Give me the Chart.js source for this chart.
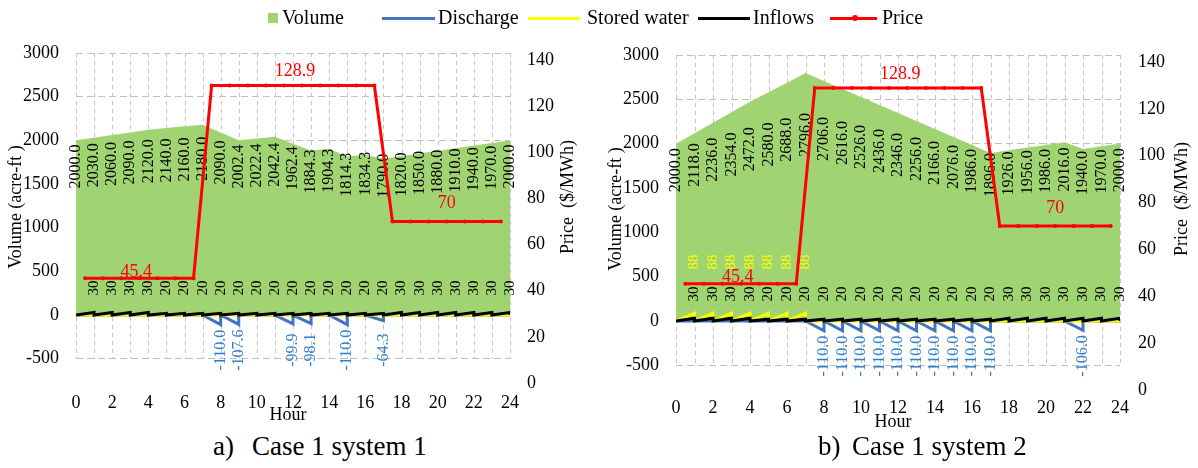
<!DOCTYPE html>
<html>
<head>
<meta charset="utf-8">
<script src="https://cdn.jsdelivr.net/npm/chart.js@4/dist/chart.umd.min.js"></script>
<style>
  body { margin: 0; background: #fff; width: 1198px; height: 468px; overflow: hidden; position: relative;
         font-family: "Liberation Serif", "Times New Roman", serif; color: #000; }
  canvas { position: absolute; top: 0; }
  #cA { left: 0; }
  #cB { left: 600px; }
  .leg { position: absolute; top: 6px; font-family: "Liberation Serif", serif; font-size: 20px; line-height: 22px; white-space: nowrap; }
  .sw { position: absolute; }
  .cap { position: absolute; top: 431px; font-family: "Liberation Serif", serif; font-size: 27px; line-height: 30px; white-space: nowrap; }
</style>
</head>
<body>
<canvas id="cA" width="600" height="430"></canvas>
<canvas id="cB" width="598" height="437"></canvas>

<div class="sw" style="left:268px;top:13px;width:10px;height:10px;background:#A0D472"></div>
<div class="leg" style="left:282px">Volume</div>
<div class="sw" style="left:382px;top:17px;width:53px;height:3px;background:#4472C4"></div>
<div class="leg" style="left:438px">Discharge</div>
<div class="sw" style="left:528px;top:17px;width:52px;height:3px;background:#FFFF00"></div>
<div class="leg" style="left:587px">Stored water</div>
<div class="sw" style="left:698px;top:17px;width:52px;height:3px;background:#000"></div>
<div class="leg" style="left:753px">Inflows</div>
<div class="sw" style="left:830px;top:17px;width:47px;height:3px;background:#FF0000"></div>
<div class="sw" style="left:852px;top:15px;width:6px;height:6px;border-radius:3px;background:#FF0000"></div>
<div class="leg" style="left:882px">Price</div>

<div class="cap" style="left:213px">a)</div>
<div class="cap" style="left:252px">Case 1 system 1</div>
<div class="cap" style="left:818px">b)</div>
<div class="cap" style="left:852px">Case 1 system 2</div>

<script>
// hour positions
const hours = [0, 1, 2, 3, 4, 5, 6, 7, 8, 9, 10, 11, 12, 13, 14, 15, 16, 17, 18, 19, 20, 21, 22, 23, 24];
const stepHours = [1, 2, 3, 4, 5, 6, 7, 8, 9, 10, 11, 12, 13, 14, 15, 16, 17, 18, 19, 20, 21, 22, 23, 24];
const priceHours = [0.5, 1.5, 2.5, 3.5, 4.5, 5.5, 6.5, 7.5, 8.5, 9.5, 10.5, 11.5, 12.5, 13.5, 14.5, 15.5,
                    16.5, 17.5, 18.5, 19.5, 20.5, 21.5, 22.5, 23.5];

// case 1 system 1
const volumeA = [2000.0, 2030.0, 2060.0, 2090.0, 2120.0, 2140.0, 2160.0, 2180.0, 2090.0, 2002.4, 2022.4, 2042.4,
                 1962.4, 1884.3, 1904.3, 1814.3, 1834.3, 1790.0, 1820.0, 1850.0, 1880.0, 1910.0, 1940.0, 1970.0, 2000.0];
const inflowA = [30, 30, 30, 30, 20, 20, 20, 20, 20, 20, 20, 20, 20, 20, 20, 20, 20, 30, 30, 30, 30, 30, 30, 30];
const dischargeA = [0, 0, 0, 0, 0, 0, 0, -110.0, -107.6, 0, 0, -99.9, -98.1, 0, -110.0, 0, -64.3, 0, 0, 0, 0, 0, 0, 0];
const storedA = [0, 0, 0, 0, 0, 0, 0, 0, 0, 0, 0, 0, 0, 0, 0, 0, 0, 0, 0, 0, 0, 0, 0, 0];
const priceA = [45.4, 45.4, 45.4, 45.4, 45.4, 45.4, 45.4, 128.9, 128.9, 128.9, 128.9, 128.9, 128.9, 128.9, 128.9,
                128.9, 128.9, 70, 70, 70, 70, 70, 70, 70];

// case 1 system 2
const volumeB = [2000.0, 2118.0, 2236.0, 2354.0, 2472.0, 2580.0, 2688.0, 2796.0, 2706.0, 2616.0, 2526.0, 2436.0,
                 2346.0, 2256.0, 2166.0, 2076.0, 1986.0, 1896.0, 1926.0, 1956.0, 1986.0, 2016.0, 1940.0, 1970.0, 2000.0];
const inflowB = [30, 30, 30, 30, 20, 20, 20, 20, 20, 20, 20, 20, 20, 20, 20, 20, 20, 30, 30, 30, 30, 30, 30, 30];
const dischargeB = [0, 0, 0, 0, 0, 0, 0, -110.0, -110.0, -110.0, -110.0, -110.0, -110.0, -110.0, -110.0, -110.0,
                    -110.0, 0, 0, 0, 0, -106.0, 0, 0];
const storedB = [88, 88, 88, 88, 88, 88, 88, 0, 0, 0, 0, 0, 0, 0, 0, 0, 0, 0, 0, 0, 0, 0, 0, 0];
const priceB = [45.4, 45.4, 45.4, 45.4, 45.4, 45.4, 45.4, 128.9, 128.9, 128.9, 128.9, 128.9, 128.9, 128.9, 128.9,
                128.9, 128.9, 70, 70, 70, 70, 70, 70, 70];

const volumeTicks = [-500, 0, 500, 1000, 1500, 2000, 2500, 3000];
const priceTicks = [0, 20, 40, 60, 80, 100, 120, 140];
const hourTicks = [0, 2, 4, 6, 8, 10, 12, 14, 16, 18, 20, 22, 24];
const priceLabelIdx = [3, 12, 20];

const SERIF = '"Liberation Serif", "Times New Roman", serif';
const GREEN = '#A0D472';

// each hour drawn as a tooth: ramp from 0 up to the value, then straight back to 0
function teeth(vals) {
  const pts = [{ x: 0, y: 0 }];
  stepHours.forEach((h, i) => {
    pts.push({ x: h, y: vals[i] });
    pts.push({ x: h, y: 0 });
  });
  return pts;
}

function vtext(ctx, txt, x, y) {
  ctx.save();
  ctx.translate(x, y);
  ctx.rotate(-Math.PI / 2);
  ctx.textAlign = 'center';
  ctx.textBaseline = 'middle';
  ctx.fillText(txt, 0, 0);
  ctx.restore();
}

function makeChart(id, d) {
  const labels = {
    id: 'labels',
    beforeDatasetsDraw(chart) {
      const { ctx } = chart;
      const xs = chart.scales.x, ys = chart.scales.y;
      ctx.save();
      ctx.strokeStyle = '#C4C4C4';
      ctx.lineWidth = 1;
      ctx.setLineDash([4, 4]);
      hours.forEach(h => {
        const x = Math.round(xs.getPixelForValue(h)) + 0.5;
        ctx.beginPath();
        ctx.moveTo(x, ys.getPixelForValue(3000));
        ctx.lineTo(x, ys.getPixelForValue(-500));
        ctx.stroke();
      });
      ctx.restore();
    },
    afterDatasetDraw(chart, args) {
      if (args.index !== 0) return;
      const { ctx } = chart;
      const xs = chart.scales.x, ys = chart.scales.y;
      const y0 = ys.getPixelForValue(0);
      ctx.save();
      ctx.fillStyle = '#000';
      ctx.font = '16px ' + SERIF;
      d.volume.forEach((v, i) => {
        const cy = (ys.getPixelForValue(v) + ys.getPixelForValue(1400)) / 2;
        vtext(ctx, v.toFixed(1), xs.getPixelForValue(hours[i]), cy);
      });
      ctx.font = '15px ' + SERIF;
      d.inflow.forEach((v, i) => vtext(ctx, String(v), xs.getPixelForValue(stepHours[i]), y0 - 27));
      ctx.fillStyle = '#FFFF00';
      d.stored.forEach((v, i) => {
        if (v) vtext(ctx, String(v), xs.getPixelForValue(stepHours[i]), y0 - 59);
      });
      ctx.fillStyle = '#2F80D0';
      ctx.font = '16px ' + SERIF;
      d.discharge.forEach((v, i) => {
        if (v) vtext(ctx, v.toFixed(1), xs.getPixelForValue(stepHours[i]), y0 + 35);
      });
      ctx.restore();
    },
    afterDatasetsDraw(chart) {
      const { ctx } = chart;
      const xs = chart.scales.x, yp = chart.scales.y1;
      const dx = [-3, -7, 0], dy = [-6, -14, -18];
      ctx.save();
      ctx.fillStyle = '#FF0000';
      ctx.font = '18px ' + SERIF;
      ctx.textAlign = 'center';
      ctx.textBaseline = 'middle';
      priceLabelIdx.forEach((k, j) => {
        ctx.fillText(String(d.price[k]), xs.getPixelForValue(priceHours[k]) + dx[j],
                     yp.getPixelForValue(d.price[k]) + dy[j]);
      });
      ctx.restore();
    },
    afterDraw(chart) {
      const { ctx, chartArea: a } = chart;
      ctx.save();
      ctx.fillStyle = '#000';
      ctx.font = '18px ' + SERIF;
      vtext(ctx, 'Volume (acre-ft )', 16, a.top + 154);
      vtext(ctx, 'Price  ($/MWh)', a.right + d.titleR, a.top + 144);
      ctx.textAlign = 'center';
      ctx.textBaseline = 'middle';
      ctx.fillText('Hour', (a.left + a.right) / 2 - 5, a.bottom + 32);
      ctx.restore();
    }
  };

  const tickFont = { family: SERIF, size: 18 };
  const plain = v => String(v);
  return new Chart(document.getElementById(id), {
    type: 'line',
    data: {
      datasets: [
        { label: 'Volume', data: hours.map((h, i) => ({ x: h, y: d.volume[i] })), yAxisID: 'y',
          fill: 'origin', backgroundColor: GREEN, borderWidth: 0, pointRadius: 0, order: 4 },
        { label: 'Discharge', data: teeth(d.discharge), yAxisID: 'y', borderColor: '#4472C4',
          borderWidth: 3, pointRadius: 0, borderJoinStyle: 'miter', order: 3 },
        { label: 'Stored water', data: teeth(d.stored), yAxisID: 'y', borderColor: '#FFFF00',
          borderWidth: 3, pointRadius: 0, borderJoinStyle: 'miter', order: 2 },
        { label: 'Inflows', data: teeth(d.inflow), yAxisID: 'y', borderColor: '#000000',
          borderWidth: 3, pointRadius: 0, borderJoinStyle: 'miter', order: 1 },
        { label: 'Price', data: priceHours.map((h, i) => ({ x: h, y: d.price[i] })), yAxisID: 'y1',
          borderColor: '#FF0000', borderWidth: 3, pointRadius: 2, pointBackgroundColor: '#FF0000',
          pointBorderWidth: 0, order: 0 }
      ]
    },
    options: {
      responsive: false,
      animation: false,
      devicePixelRatio: 1,
      layout: { padding: { top: d.top, left: 0, right: 0, bottom: 0 } },
      plugins: { legend: { display: false }, tooltip: { enabled: false } },
      scales: {
        x: {
          type: 'linear', min: 0, max: 24,
          afterBuildTicks: s => { s.ticks = hourTicks.map(v => ({ value: v })); },
          afterFit: s => { s.height = 47; },
          ticks: { font: tickFont, color: '#000', padding: d.xPad, maxRotation: 0, autoSkip: false, callback: plain },
          grid: { display: false, drawTicks: false },
          border: { display: false }
        },
        y: {
          position: 'left', min: -778, max: 3000,
          afterBuildTicks: s => { s.ticks = volumeTicks.map(v => ({ value: v })); },
          afterFit: s => { s.width = 76; },
          ticks: { font: tickFont, color: '#000', padding: 17, callback: plain },
          grid: { color: '#BFBFBF', drawTicks: false, lineWidth: 1 },
          border: { display: false, dash: [7, 4] }
        },
        y1: {
          position: 'right', min: 0, max: 143,
          afterBuildTicks: s => { s.ticks = priceTicks.map(v => ({ value: v })); },
          afterFit: s => { s.width = d.rightW; },
          ticks: { font: tickFont, color: '#000', padding: d.rightPad, callback: plain },
          grid: { display: false, drawTicks: false },
          border: { display: false }
        }
      }
    },
    plugins: [labels]
  });
}

makeChart('cA', { volume: volumeA, inflow: inflowA, discharge: dischargeA, stored: storedA, price: priceA,
                  top: 53, xPad: 9, rightW: 90, rightPad: 17, titleR: 58 });
makeChart('cB', { volume: volumeB, inflow: inflowB, discharge: dischargeB, stored: storedB, price: priceB,
                  top: 55, xPad: 7, rightW: 78, rightPad: 18, titleR: 62 });
</script>
</body>
</html>
